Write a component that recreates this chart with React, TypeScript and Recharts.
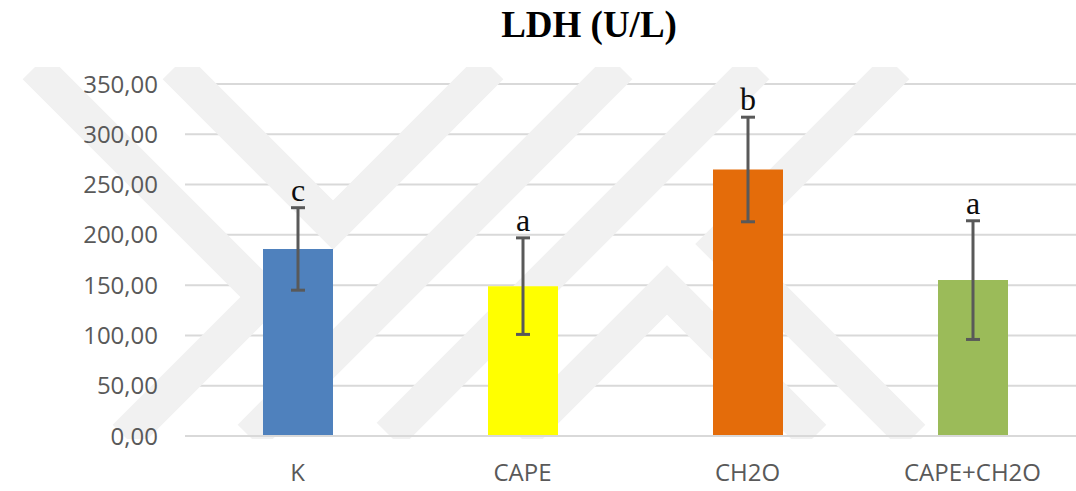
import React from 'react';
import { BarChart, Bar, XAxis, YAxis, CartesianGrid, ErrorBar, Cell, LabelList, Customized } from 'recharts';

// LDH (U/L) per group, mean ± SD
const groups = ['K', 'CAPE', 'CH2O', 'CAPE+CH2O'];
const means = [186, 149, 265, 155];
const sds = [41, 48, 52, 59];
const letters = ['c', 'a', 'b', 'a'];
const colors = ['#4f81bd', '#ffff00', '#e46c0a', '#9bbb59'];
const yTicks = [0, 50, 100, 150, 200, 250, 300, 350];

const data = groups.map((g, i) => ({ group: g, mean: means[i], sd: sds[i], letter: letters[i] }));

const axisFont = { fill: '#595959', fontSize: 24, fontFamily: '"Open Sans", sans-serif' };

// faint thesis watermark behind the plot
const watermarkPaths = [
  'M35,67 L265,297 L125,437',
  'M175,67 L333,225 L491,67',
  'M250,437 L620,67',
  'M757,67 L389,435',
  'M520,437 L667,290 L814,437',
  'M897,67 L720,244 L913,437',
];

const Watermark = () => (
  <g>
    <defs>
      <clipPath id="wm-clip">
        <rect x={0} y={67} width={1100} height={372} />
      </clipPath>
    </defs>
    <g clipPath="url(#wm-clip)">
      {watermarkPaths.map((d, i) => (
        <path key={i} d={d} fill="none" stroke="#f1f1f1" strokeWidth={35} strokeLinejoin="miter" />
      ))}
    </g>
  </g>
);

const Title = () => (
  <text x={589} y={37} textAnchor="middle" fontFamily='"Liberation Serif", serif' fontWeight="bold" fontSize={37} fill="#000">
    LDH (U/L)
  </text>
);

// significance letter just above the top of the error bar
const LetterLabel = (props: any) => {
  const { x, y, width, height, value, index } = props;
  if (value == null) return null;
  const perUnit = height / means[index];
  const top = y - sds[index] * perUnit;
  return (
    <text x={x + width / 2} y={top - 7} textAnchor="middle" fontFamily='"Liberation Serif", serif' fontSize={32} fill="#0d0d0d">
      {value}
    </text>
  );
};

export default function App() {
  return (
    <div style={{ position: 'absolute', left: 0, top: 0, width: 1076, height: 491, overflow: 'hidden', background: '#fff' }}>
      <BarChart width={1100} height={491} data={data} margin={{ top: 84, right: 15, left: 0, bottom: 0 }} barSize={70}>
        <Customized component={Watermark} />
        <Customized component={Title} />
        <CartesianGrid vertical={false} stroke="#d9d9d9" strokeWidth={2} />
        <XAxis
          dataKey="group"
          height={55}
          axisLine={{ stroke: '#d9d9d9', strokeWidth: 2 }}
          tickLine={false}
          tickMargin={22}
          tick={axisFont}
        />
        <YAxis
          width={185}
          domain={[0, 350]}
          ticks={yTicks}
          axisLine={false}
          tickLine={false}
          tickMargin={21}
          tick={axisFont}
          tickFormatter={(v: number) => v.toFixed(2).replace('.', ',')}
        />
        <Bar dataKey="mean" isAnimationActive={false}>
          {data.map((d, i) => (
            <Cell key={d.group} fill={colors[i]} />
          ))}
          <ErrorBar dataKey="sd" stroke="#595959" strokeWidth={3} width={7} isAnimationActive={false} />
          <LabelList dataKey="letter" content={LetterLabel} />
        </Bar>
      </BarChart>
    </div>
  );
}
